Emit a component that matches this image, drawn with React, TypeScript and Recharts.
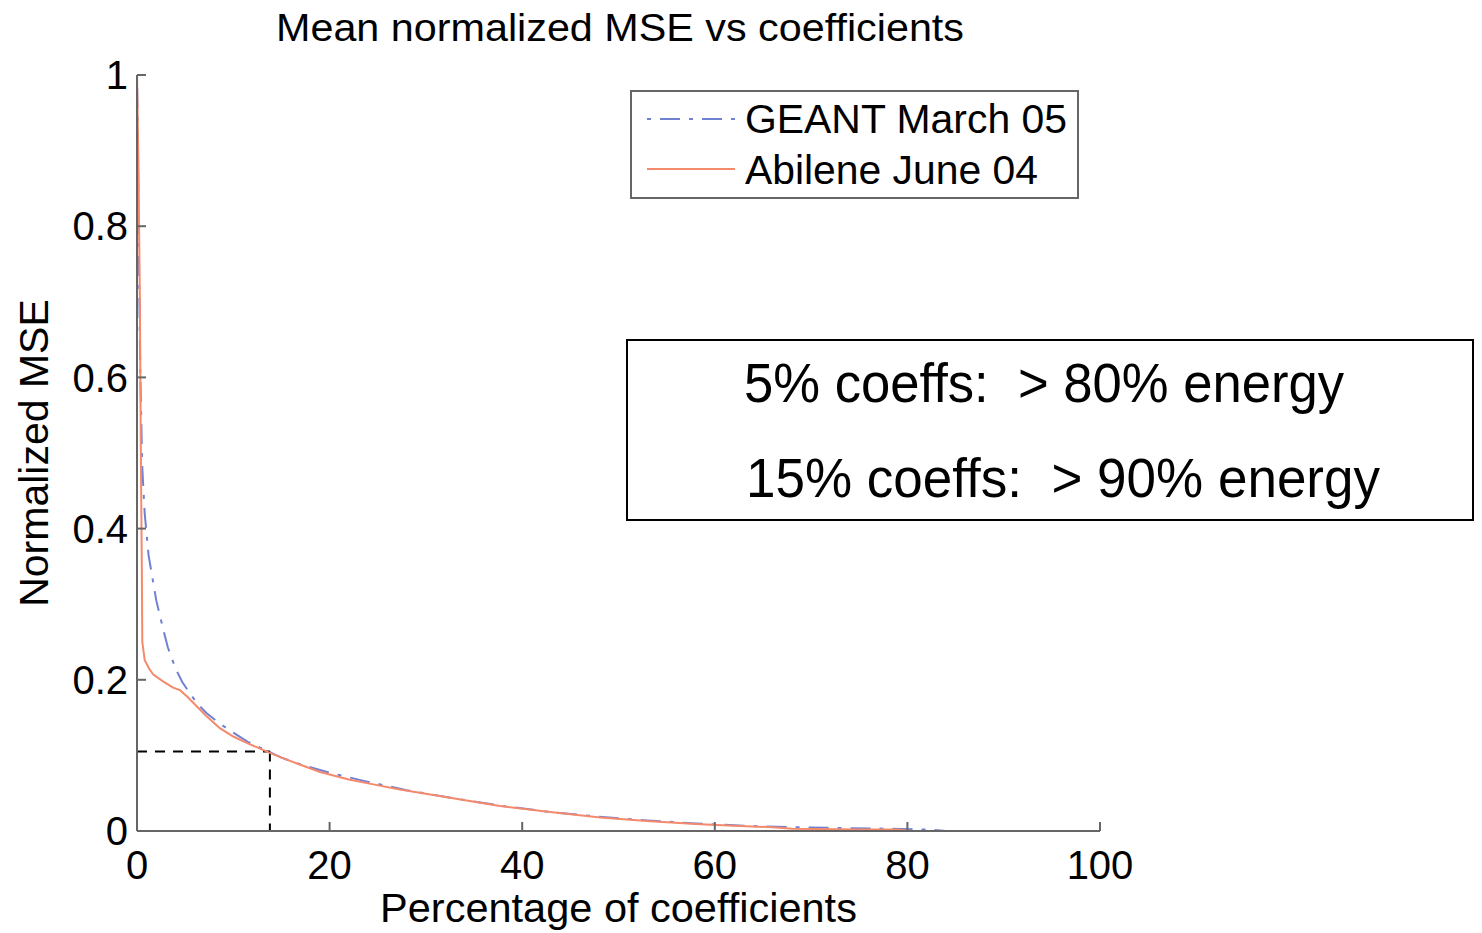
import React from "react"
import { LineChart, Line, XAxis, YAxis, ReferenceLine, Legend } from "recharts"

// GEANT March 05 (dash-dot blue)
const geantX = [0, 0.1, 0.2, 0.35, 0.55, 0.8, 1.2, 1.6, 2.0, 2.7, 3.2, 4.0, 4.7, 5.5, 6.3, 7.2, 8.6, 10, 11.5, 13.5, 15, 17, 20, 24, 28, 33, 38, 43, 48, 53, 58, 63, 68, 73, 78, 82, 84, 100]
const geantY = [1, 0.9, 0.75, 0.6, 0.48, 0.42, 0.365, 0.335, 0.305, 0.268, 0.243, 0.215, 0.197, 0.182, 0.168, 0.156, 0.142, 0.13, 0.118, 0.106, 0.097, 0.088, 0.077, 0.065, 0.054, 0.043, 0.033, 0.025, 0.019, 0.014, 0.01, 0.007, 0.005, 0.004, 0.003, 0.002, 0, 0]

// Abilene June 04 (solid orange)
const abileneX = [0, 0.15, 0.3, 0.4, 0.5, 0.55, 0.8, 1.3, 1.7, 2.7, 3.7, 4.5, 5.2, 6.2, 7.2, 8.6, 10, 11.5, 13.5, 15, 16.9, 19, 22, 24, 27.3, 32.5, 37.7, 42.9, 48.1, 53.3, 58.5, 62, 66, 68, 75, 79, 80.5, 100]
const abileneY = [1, 0.88, 0.7, 0.5, 0.35, 0.25, 0.226, 0.214, 0.207, 0.198, 0.19, 0.186, 0.178, 0.165, 0.152, 0.136, 0.125, 0.116, 0.105, 0.097, 0.088, 0.078, 0.068, 0.063, 0.055, 0.044, 0.033, 0.025, 0.018, 0.013, 0.009, 0.007, 0.005, 0.003, 0.002, 0.002, 0, 0]

const xTicks = [0, 20, 40, 60, 80, 100]
const yTicks = [0, 0.2, 0.4, 0.6, 0.8, 1]

// dashed marker: 15% coefficients -> ~0.1 normalized MSE
const cutoffX = 13.8
const cutoffY = 0.105

const notes = ["5% coeffs:  > 80% energy", "15% coeffs:  > 90% energy"]

const FONT = "'Liberation Sans', Arial, Helvetica, sans-serif"
const BLUE = "#7181d2"
const ORANGE = "#f4896c"
const AXIS = "#666666"

const geantData = geantX.map((x, i) => ({ x, y: geantY[i] }))
const abileneData = abileneX.map((x, i) => ({ x, y: abileneY[i] }))

function LegendBox() {
  return (
    <svg width={449} height={109} style={{ display: "block", fontFamily: FONT }}>
      <rect x={1} y={1} width={447} height={107} fill="#fff" stroke={AXIS} strokeWidth={2} />
      <line x1={17} y1={29} x2={105} y2={29} stroke={BLUE} strokeWidth={2} strokeDasharray="4 9 20 9" />
      <text x={115} y={43} fontSize={40} fill="#000" textLength={322} lengthAdjust="spacingAndGlyphs">GEANT March 05</text>
      <line x1={17} y1={79} x2={105} y2={79} stroke={ORANGE} strokeWidth={2} />
      <text x={115} y={94} fontSize={40} fill="#000" textLength={293} lengthAdjust="spacingAndGlyphs">Abilene June 04</text>
    </svg>
  )
}

export default function App() {
  return (
    <div style={{ position: "absolute", left: 0, top: 0, width: 1482, height: 933, background: "#fff", fontFamily: FONT }}>
      <LineChart
        width={1482}
        height={933}
        margin={{ top: 75, right: 382, left: 0, bottom: 42 }}
      >
        <XAxis
          dataKey="x"
          type="number"
          domain={[0, 100]}
          ticks={xTicks}
          interval={0}
          height={60}
          stroke={AXIS}
          strokeWidth={2}
          tickSize={-9}
          tickMargin={29}
          tick={{ fill: "#000", fontSize: 40, fontFamily: FONT }}
          label={{ value: "Percentage of coefficients", position: "bottom", offset: 2, fill: "#000", fontSize: 41.5, fontFamily: FONT }}
        />
        <YAxis
          type="number"
          domain={[0, 1]}
          ticks={yTicks}
          interval={0}
          width={137}
          stroke={AXIS}
          strokeWidth={2}
          tickSize={-9}
          tickMargin={18}
          tick={{ fill: "#000", fontSize: 40, fontFamily: FONT }}
          label={{ value: "Normalized MSE", angle: -90, position: "insideLeft", offset: 33, fill: "#000", fontSize: 41, fontFamily: FONT, style: { textAnchor: "middle" } }}
        />
        <Legend
          layout="horizontal"
          verticalAlign="middle"
          align="center"
          content={() => <LegendBox />}
          wrapperStyle={{ position: "absolute", left: 630, top: 90, width: 449, height: 109 }}
        />
        <ReferenceLine
          segment={[{ x: 0, y: cutoffY }, { x: cutoffX, y: cutoffY }]}
          stroke="#000"
          strokeWidth={2}
          strokeDasharray="10 8"
        />
        <ReferenceLine
          segment={[{ x: cutoffX, y: cutoffY }, { x: cutoffX, y: 0 }]}
          stroke="#000"
          strokeWidth={2}
          strokeDasharray="10 8"
        />
        <Line
          data={geantData}
          dataKey="y"
          name="GEANT March 05"
          type="linear"
          stroke={BLUE}
          strokeWidth={2}
          strokeDasharray="4 9 20 9"
          dot={false}
          isAnimationActive={false}
        />
        <Line
          data={abileneData}
          dataKey="y"
          name="Abilene June 04"
          type="linear"
          stroke={ORANGE}
          strokeWidth={2}
          dot={false}
          isAnimationActive={false}
        />
      </LineChart>
      <svg
        width={1482}
        height={933}
        style={{ position: "absolute", left: 0, top: 0, pointerEvents: "none", fontFamily: FONT }}
      >
        <text x={620} y={41} fontSize={38} fill="#000" textAnchor="middle" textLength={688} lengthAdjust="spacingAndGlyphs">
          Mean normalized MSE vs coefficients
        </text>
        <rect x={627} y={340} width={846} height={180} fill="none" stroke="#000" strokeWidth={2} />
        <text x={744} y={402} fontSize={56} fill="#000" textLength={600} lengthAdjust="spacingAndGlyphs" style={{ whiteSpace: "pre" }}>
          {notes[0]}
        </text>
        <text x={746} y={497} fontSize={56} fill="#000" textLength={634} lengthAdjust="spacingAndGlyphs" style={{ whiteSpace: "pre" }}>
          {notes[1]}
        </text>
      </svg>
    </div>
  )
}
